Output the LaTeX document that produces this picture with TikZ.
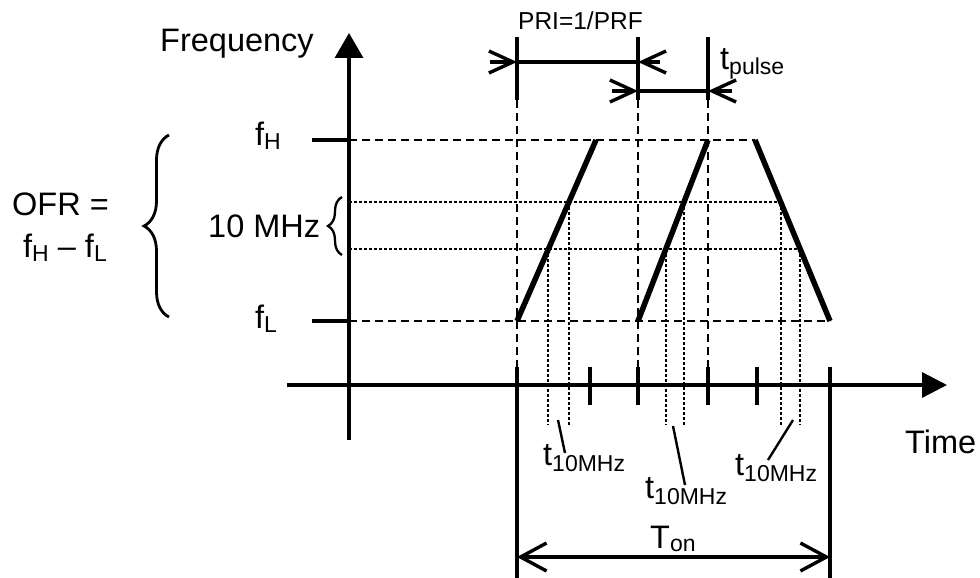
\documentclass[tikz,border=0pt]{standalone}
\usepackage{fontspec}
\setmainfont{Liberation Sans}
\usetikzlibrary{arrows.meta,decorations.pathreplacing}
\newcommand{\lsub}[2][5pt]{\raisebox{-#1}{\fontsize{23pt}{23pt}\selectfont #2}}
\begin{document}
\begin{tikzpicture}[x=1pt,y=-1pt,
  axis/.style={line width=3.4pt},
  ramp/.style={line width=5.5pt},
  dashline/.style={line width=2.4pt,dash pattern=on 8pt off 5pt},
  dotline/.style={line width=1.8pt,dash pattern=on 2.5pt off 2.5pt},
  leader/.style={line width=2.4pt},
  dimline/.style={line width=3.4pt},
  smallbarb/.style={-{Straight Barb[length=24pt,width=22pt]}},
  bigbarb/.style={{Straight Barb[length=26pt,width=28pt]}-{Straight Barb[length=26pt,width=28pt]}},
  lab/.style={inner sep=0pt,anchor=base west,font=\fontsize{32.5pt}{32.5pt}\selectfont},
  smalllab/.style={inner sep=0pt,anchor=base west,font=\fontsize{24.5pt}{24.5pt}\selectfont},
  bracestyle/.style={decorate,line width=2.8pt}
]
\useasboundingbox (0,0) rectangle (980,578);

% axes
\coordinate (yb) at (349,440);
\coordinate (yt) at (349,33);
\coordinate (xl) at (287,385);
\coordinate (xr) at (947,385);
\draw[axis,-{Triangle[length=25pt,width=28pt]}] (yb) -- (yt);
\draw[axis,-{Triangle[length=25pt,width=25pt]}] (xl) -- (xr);

% frequency levels
\coordinate (fH0) at (312,140); \coordinate (fH1) at (349,140); \coordinate (fHe) at (755,140);
\coordinate (fL0) at (312,321); \coordinate (fL1) at (349,321); \coordinate (fLe) at (830,321);
\draw[axis] (fH0) -- (fH1);
\draw[axis] (fL0) -- (fL1);
\draw[dashline] (fH1) -- (fHe);
\draw[dashline] (fL1) -- (fLe);
\coordinate (m1a) at (349,202); \coordinate (m1b) at (781,202);
\coordinate (m2a) at (349,249); \coordinate (m2b) at (800,249);
\draw[dotline] (m1a) -- (m1b);
\draw[dotline] (m2a) -- (m2b);

% ramps
\coordinate (r1a) at (517,321); \coordinate (r1b) at (596,140);
\coordinate (r2a) at (638,321); \coordinate (r2b) at (708,140);
\coordinate (r3a) at (755,140); \coordinate (r3b) at (830,321);
\draw[ramp] (r1a) -- (r1b);
\draw[ramp] (r2a) -- (r2b);
\draw[ramp] (r3a) -- (r3b);

% vertical markers
\foreach \x in {517,638,708}{
  \draw[axis] (\x,37) -- (\x,100);
  \draw[dashline] (\x,100) -- (\x,367);
}
\draw[axis] (517,367) -- (517,578);
\draw[axis] (830,367) -- (830,578);
\foreach \x in {590,638,708,757}{
  \draw[axis] (\x,367) -- (\x,405);
}

% dotted verticals
\foreach \x/\y in {569/202,548/249,684/202,666/249,781/202,800/249}{
  \draw[dotline] (\x,\y) -- (\x,425);
}

% leaders
\coordinate (l1a) at (558,420); \coordinate (l1b) at (565,453);
\coordinate (l2a) at (673,426); \coordinate (l2b) at (685,485);
\coordinate (l3a) at (793,420); \coordinate (l3b) at (768,460);
\draw[leader] (l1a) -- (l1b);
\draw[leader] (l2a) -- (l2b);
\draw[leader] (l3a) -- (l3b);

% PRI dimension
\coordinate (p0) at (490,62); \coordinate (p1) at (517,62); \coordinate (p2) at (638,62); \coordinate (p3) at (660,62);
\draw[dimline,smallbarb] (p0) -- (p1);
\draw[dimline] (p1) -- (p2);
\draw[dimline,smallbarb] (p3) -- (p2);
% pulse dimension
\coordinate (q0) at (612,91); \coordinate (q1) at (638,91); \coordinate (q2) at (708,91); \coordinate (q3) at (732,91);
\draw[dimline,smallbarb] (q0) -- (q1);
\draw[dimline] (q1) -- (q2);
\draw[dimline,smallbarb] (q3) -- (q2);
% Ton dimension
\coordinate (t0) at (517,557); \coordinate (t1) at (830,557);
\draw[dimline,bigbarb] (t0) -- (t1);

% braces
\coordinate (b1a) at (169,317); \coordinate (b1b) at (169,135);
\draw[bracestyle,decoration={brace,amplitude=25pt}] (b1a) -- (b1b);
\coordinate (b2a) at (342,255); \coordinate (b2b) at (342,197);
\draw[bracestyle,line width=2.3pt,decoration={brace,amplitude=14pt}] (b2a) -- (b2b);

% labels
\node[lab] (freq) at (160,52) {Frequency};
\node[lab] (time) at (905,453) {Time};
\node[lab] (fhl) at (255,145) {f\lsub[4pt]{H}};
\node[lab] (fll) at (255,328) {f\lsub[4pt]{L}};
\node[lab] (tenm) at (208,237) {10 MHz};
\node[lab] (ofr1) at (12,215) {OFR =};
\node[lab] (ofr2) at (23,257) {f\lsub[4pt]{H} – f\lsub[4pt]{L}};
\node[smalllab] (pri) at (518,30) {PRI=1/PRF};
\node[lab] (tpul) at (720,70) {t\lsub{pulse}};
\node[lab] (t1lab) at (543,465) {t\lsub[6pt]{10MHz}};
\node[lab] (t2lab) at (645,498) {t\lsub[6pt]{10MHz}};
\node[lab] (t3lab) at (735,475) {t\lsub[6pt]{10MHz}};
\node[lab] (ton) at (650,548) {T\lsub[3pt]{on}};
\end{tikzpicture}
\end{document}
